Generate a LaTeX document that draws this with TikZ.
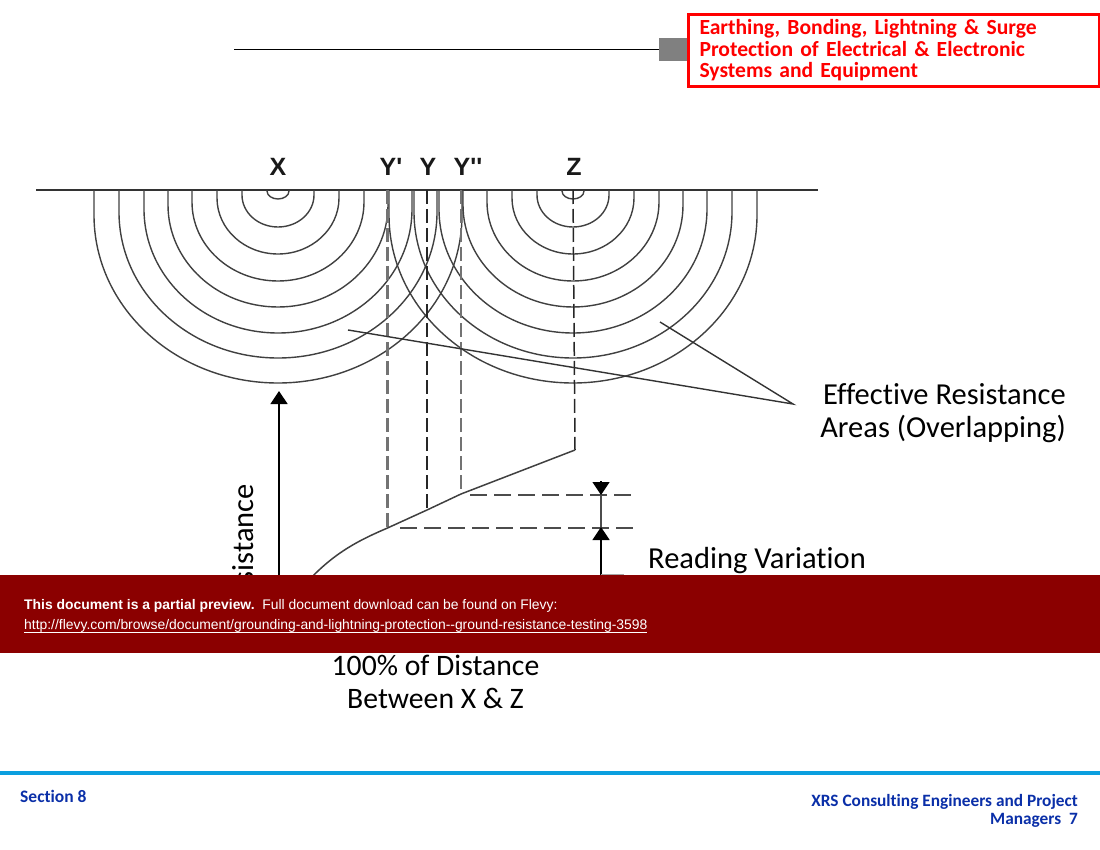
\documentclass[tikz,border=0pt]{standalone}
\usepackage{fontspec}
\setmainfont[Ligatures=NoCommon]{Carlito}
\newfontfamily\previewfont{Liberation Sans}
\usetikzlibrary{arrows.meta}
\definecolor{previewred}{HTML}{8B0000}
\definecolor{footerblue}{HTML}{0B9FDF}
\definecolor{footertext}{HTML}{0A2FA8}
\begin{document}
\begin{tikzpicture}[x=1pt,y=-1pt,
    ring/.style={draw=black!75,line width=1.4pt},
    drop/.style={draw=black!55,line width=2.4pt,dash pattern=on 14pt off 5pt},
    thindrop/.style={draw=black!85,line width=1.5pt,dash pattern=on 14pt off 5pt},
    level/.style={draw=black!70,line width=2pt,dash pattern=on 17pt off 7pt},
    pointer/.style={draw=black,line width=1.4pt,-{Triangle[width=17pt,length=13pt]}},
    letter/.style={font=\previewfont\bfseries\fontsize{25}{25}\selectfont,text=black!90,inner sep=0pt},
    caption/.style={font=\fontsize{30.5}{33}\selectfont,inner sep=0pt,align=center}]
    \useasboundingbox (0,0) rectangle (1100,850);

    % header
    \node[draw=red,fill=white,line width=3pt,minimum width=411pt,minimum height=72pt,anchor=north west,
        align=left,text=red,font=\bfseries\fontsize{21.6}{21.5}\selectfont,inner sep=0pt,text width=388pt] (title) at (686.5,13)
        {Earthing, Bonding, Lightning \& Surge\\Protection of Electrical \& Electronic\\Systems and Equipment};
    \node[fill=black!50,minimum width=28pt,minimum height=23pt,inner sep=0pt,anchor=east] (tab) at (687,49.5) {};
    \coordinate (rulestart) at (234,49.5);
    \draw[line width=1.2pt] (rulestart) -- (tab);

    % ground and the two sets of rings
    \coordinate (groundL) at (36,190);
    \coordinate (groundR) at (818,190);
    \draw[black!80,line width=1.6pt] (groundL) -- (groundR);
    \foreach \r/\d/\v in {11/9/1,36/37/5,61/64/8,86/91/12,110/117/15,134/143/19,159/168/22,184/193/25}{
        \pgfmathsetmacro{\rest}{\d-\v}
        \draw[ring] (278-\r,190) -- ++(0,\v) arc[start angle=180,end angle=360,x radius=\r pt,y radius=\rest pt] -- ++(0,-\v);
        \draw[ring] (573-\r,190) -- ++(0,\v) arc[start angle=180,end angle=360,x radius=\r pt,y radius=\rest pt] -- ++(0,-\v);
    }
    \node[letter] (X) at (278,167) {X};
    \node[letter] (Yone) at (391,167) {Y'};
    \node[letter] (Y) at (428,167) {Y};
    \node[letter] (Ytwo) at (468,167) {Y''};
    \node[letter] (Z) at (574,167) {Z};

    % reading curve
    \coordinate (topY1) at (387.5,190);
    \coordinate (topY) at (427,190);
    \coordinate (topY2) at (461,190);
    \coordinate (topZ) at (573,190);
    \coordinate (curveY1) at (387.5,528);
    \coordinate (curveY) at (427,510);
    \coordinate (curveY2) at (461,494);
    \coordinate (curveZ) at (575,450);
    \draw[drop] (topY1) -- (curveY1);
    \draw[thindrop] (topY) -- (curveY);
    \draw[drop] (topY2) -- (curveY2);
    \draw[thindrop] (topZ) -- (curveZ);
    \coordinate (curveEnd) at (300,590);
    \draw[black!75,line width=1.5pt] (curveZ) -- (curveY2) -- (curveY) -- (curveY1)
        .. controls (355,542) and (330,555) .. (curveEnd);
    \coordinate (levelA) at (470,495);
    \coordinate (levelAend) at (637,495);
    \coordinate (levelB) at (400,528);
    \coordinate (levelBend) at (637,528);
    \draw[level] (levelA) -- (levelAend);
    \draw[level] (levelB) -- (levelBend);

    % resistance axis and variation marks
    \coordinate (axisfoot) at (279,600);
    \coordinate (axistip) at (279,391);
    \draw[pointer] (axisfoot) -- (axistip);
    \coordinate (varA) at (601,481);
    \coordinate (varAtip) at (601,495);
    \coordinate (varB) at (601,600);
    \coordinate (varBtip) at (601,527);
    \draw[black!70,line width=1.6pt] (varA) -- (varB);
    \draw[pointer] (varA) -- (varAtip);
    \draw[pointer] (varB) -- (varBtip);
    \coordinate (varleader) at (624,574.5);
    \coordinate (varleaderstart) at (601,574.5);
    \draw[black!35,line width=1pt] (varleaderstart) -- (varleader);

    % overlap pointers
    \coordinate (apex) at (793,404);
    \coordinate (overlapA) at (348,330);
    \coordinate (overlapB) at (660,322);
    \draw[black!80,line width=1.4pt] (overlapA) -- (apex) -- (overlapB);

    % captions
    \node[caption,anchor=north east,align=right] (overlap) at (1066,383) {Effective Resistance\\Areas (Overlapping)};
    \node[caption,anchor=west] (reading) at (648,561) {Reading Variation};
    \node[caption,rotate=90,anchor=east] (resistance) at (243,484) {Resistance};
    \node[caption,font=\fontsize{29.7}{33}\selectfont] (distance) at (435.5,681.5) {100\% of Distance\\Between X \& Z};

    % preview strip
    \node[fill=previewred,minimum width=1100pt,minimum height=78pt,inner sep=0pt,anchor=north west] (strip) at (0,575) {};
    \node[anchor=base west,inner sep=0pt,text=white,font=\previewfont\fontsize{13.9}{13.9}\selectfont] (previewA) at (24,609)
        {\textbf{This document is a partial preview.}\ \ Full document download can be found on Flevy:};
    \node[anchor=base west,inner sep=0pt,text=white,font=\previewfont\fontsize{13.9}{13.9}\selectfont] (previewB) at (24,629)
        {http://flevy.com/browse/document/grounding-and-lightning-protection--ground-resistance-testing-3598};
    \coordinate (urlL) at (24,632);
    \coordinate (urlR) at (647,632);
    \draw[white,line width=0.8pt] (urlL) -- (urlR);

    % footer
    \coordinate (footL) at (0,773);
    \coordinate (footR) at (1100,773);
    \draw[footerblue,line width=4pt] (footL) -- (footR);
    \node[anchor=base west,inner sep=0pt,text=footertext,font=\bfseries\fontsize{17.5}{17.5}\selectfont] (section) at (20,802) {Section 8};
    \node[anchor=north east,inner sep=0pt,align=right,text=footertext,font=\bfseries\fontsize{17.3}{18.5}\selectfont] (firm) at (1078,794)
        {XRS Consulting Engineers and Project\\Managers\ \ 7};
\end{tikzpicture}
\end{document}
